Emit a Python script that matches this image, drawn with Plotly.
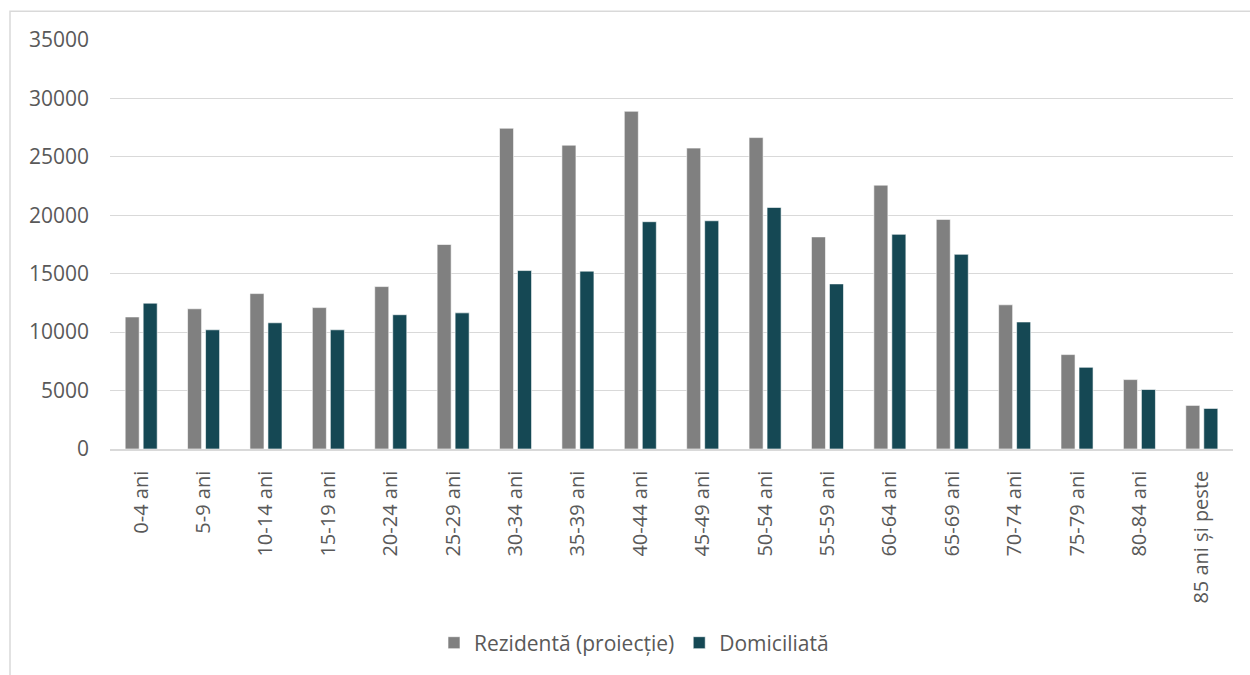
import plotly.graph_objects as go

categories = ["0-4 ani", "5-9 ani", "10-14 ani", "15-19 ani", "20-24 ani", "25-29 ani",
              "30-34 ani", "35-39 ani", "40-44 ani", "45-49 ani", "50-54 ani", "55-59 ani",
              "60-64 ani", "65-69 ani", "70-74 ani", "75-79 ani", "80-84 ani", "85 ani și peste"]
rezidenta = [11300, 12000, 13300, 12100, 13900, 17500, 27450, 26000, 28900, 25750,
             26650, 18150, 22580, 19650, 12340, 8080, 5940, 3730]
domiciliata = [12480, 10200, 10800, 10200, 11490, 11650, 15270, 15220, 19450, 19530,
               20670, 14130, 18370, 16660, 10870, 6990, 5090, 3470]
y_ticks = [0, 5000, 10000, 15000, 20000, 25000, 30000, 35000]

W, H = 1250, 675
L, R, T, B = 110, 1233, 40, 451
pw, ph = R - L, B - T

def px_x(p):
    return (p - L) / pw

def px_y(p):
    return (B - p) / ph

text_color = "#595959"
font_family = "Open Sans, Segoe UI, sans-serif"

fig = go.Figure()
fig.add_trace(go.Bar(x=categories, y=rezidenta, name="Rezidentă (proiecție)",
                     marker=dict(color="#808080", line=dict(color="#ffffff", width=0.6))))
fig.add_trace(go.Bar(x=categories, y=domiciliata, name="Domiciliată",
                     marker=dict(color="#154854", line=dict(color="#ffffff", width=0.6))))

fig.update_layout(
    width=W, height=H,
    margin=dict(l=L, r=W - R, t=T, b=H - B, pad=0),
    paper_bgcolor="white", plot_bgcolor="white",
    barmode="group", bargap=0.423, bargroupgap=0.22,
    font=dict(family=font_family, color=text_color, size=21),
    legend=dict(orientation="h", x=px_x(634), xanchor="center", y=px_y(646), yanchor="middle",
                font=dict(size=21, color=text_color), itemwidth=30, traceorder="normal"),
    shapes=[dict(type="rect", xref="paper", yref="paper",
                 x0=px_x(10), x1=px_x(1262), y0=px_y(690), y1=px_y(11),
                 line=dict(color="#d9d9d9", width=1.5), fillcolor="rgba(0,0,0,0)", layer="below")],
)
fig.update_yaxes(range=[0, 35000], tickvals=y_ticks, ticktext=[str(v) for v in y_ticks],
                 showgrid=True, gridcolor="#d9d9d9", gridwidth=1.3, zeroline=False,
                 showline=False, ticks="", ticklabelstandoff=20,
                 tickfont=dict(size=21, color=text_color))
fig.update_xaxes(type="category", tickangle=-90, showline=True, linecolor="#d9d9d9", linewidth=1.5,
                 ticks="", ticklabelstandoff=12, tickfont=dict(size=20, color=text_color))

fig.write_html("out.html", config={"displayModeBar": False},
               post_script="document.body.style.margin='0px';")
